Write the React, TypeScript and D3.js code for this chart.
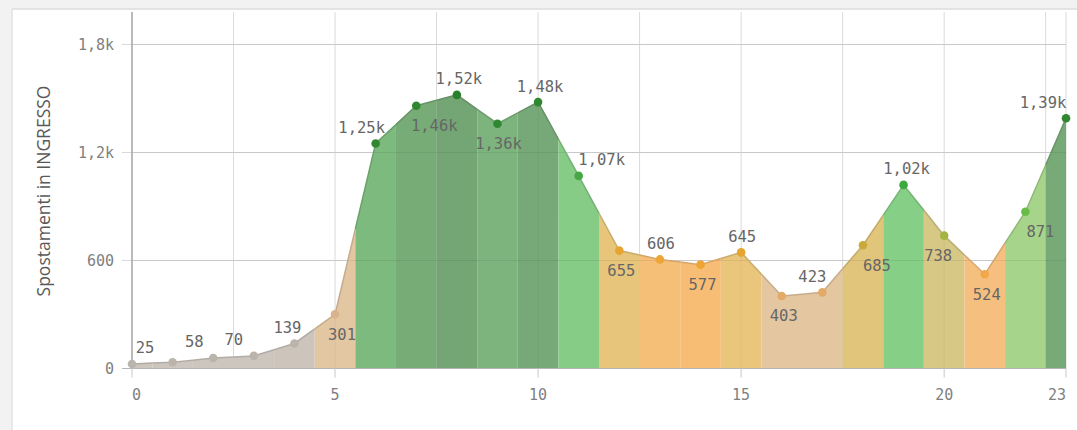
import React from "react";
import * as d3 from "d3";

// ---- data ----
const hours = [0, 1, 2, 3, 4, 5, 6, 7, 8, 9, 10, 11, 12, 13, 14, 15, 16, 17, 18, 19, 20, 21, 22, 23];
const values = [25, 35, 58, 70, 139, 301, 1250, 1460, 1520, 1360, 1480, 1070, 655, 606, 577, 645, 403, 423, 685, 1020, 738, 524, 871, 1390];
const yTicks = [0, 600, 1200, 1800];
const xTickLabels = [0, 5, 10, 15, 20, 23];
const yTitle = "Spostamenti in INGRESSO";

// ---- styles ----
const fillColors = [
  "#cdc6bf", "#cdc6bf", "#cdc6bf", "#cdc6bf", "#cdc5bc", "#e3c6a2",
  "#7dba7d", "#77ac77", "#74a574", "#7db47d", "#77a877", "#86cb86",
  "#e7c67c", "#f5bf78", "#f8bd75", "#e9c67b", "#e4c6a0", "#e4c6a0",
  "#e0c57a", "#86cf86", "#d7c886", "#f5bf80", "#a6d48a", "#78aa78",
];
const pointColors = [
  "#bbb4ad", "#bbb4ad", "#bbb4ad", "#bbb4ad", "#bbb4ad", "#d9b38b",
  "#2f872f", "#2f872f", "#2a7f2a", "#2f872f", "#2f872f", "#45a845",
  "#e5a530", "#eda535", "#eda535", "#e5a530", "#e2aa66", "#e2aa66",
  "#c9a93a", "#3daa3d", "#a4b444", "#f0a848", "#6abc48", "#2f872f",
];
// label placement: 1 above, -1 below, 0 hidden; with horizontal nudge
const labelSide = [1, 0, 1, 1, 1, -1, 1, -1, 1, -1, 1, 1, -1, 1, -1, 1, -1, 1, -1, 1, -1, -1, -1, 1];
const labelNudge = [13, 0, -19, -20, -7, 7, -14, 18, 2, 1, 2, 23, 2, 1, 2, 1, 2, -10, 14, 3, -6, 2, 15, -23];

const W = 1077;
const H = 430;
const plotLeft = 132;
const plotRight = 1066;
const plotTop = 12;
const plotBottom = 368.5;
const labelFont = "'DejaVu Sans Mono', monospace";

function fmtTick(v: number) {
  if (v >= 1000) return String(v / 1000).replace(".", ",") + "k";
  return String(v);
}
function fmtValue(v: number) {
  if (v >= 1000) return (v / 1000).toFixed(2).replace(".", ",") + "k";
  return String(v);
}

export default function App() {
  const x = d3.scaleLinear().domain([0, 23]).range([plotLeft, plotRight]);
  const y = d3.scaleLinear().domain([0, 1800]).range([plotBottom, 44.5]);
  const interp = (t: number) => {
    const i0 = Math.floor(t);
    const i1 = Math.min(i0 + 1, values.length - 1);
    const f = t - i0;
    return values[i0] + (values[i1] - values[i0]) * f;
  };

  const area = d3
    .area<[number, number]>()
    .x((d) => x(d[0]))
    .y0(y(0))
    .y1((d) => y(d[1]));
  const line = d3
    .line<[number, number]>()
    .x((d) => x(d[0]))
    .y((d) => y(d[1]));

  const segments = hours.map((h, i) => {
    const a = Math.max(0, h - 0.5);
    const b = Math.min(23, h + 0.5);
    const pts: [number, number][] = [];
    if (a < h) pts.push([a, interp(a)]);
    pts.push([h, values[i]]);
    if (b > h) pts.push([b, interp(b)]);
    return { pts, fill: fillColors[i], stroke: d3.color(fillColors[i])!.darker(0.4).formatHex() };
  });

  const vGrid = d3.range(0, 23.01, 2.5).concat([23]);

  return (
    <svg width={W} height={H} style={{ position: "absolute", left: 0, top: 0, background: "#f2f2f2" }}>
      <rect x={12} y={9} width={W - 12} height={H - 9} fill="#ffffff" />
      <line x1={12} x2={W} y1={9} y2={9} stroke="#dcdcdc" strokeWidth={1.5} />
      <line x1={12} x2={12} y1={9} y2={H} stroke="#e2e2e2" strokeWidth={1.5} />

      {/* horizontal grid */}
      {yTicks.map((t) => (
        <g key={"yg" + t}>
          <line x1={plotLeft - 10} x2={plotRight} y1={y(t)} y2={y(t)} stroke="#d9d9d9" strokeWidth={1} />
          <text
            x={plotLeft - 18}
            y={y(t)}
            dy="0.35em"
            textAnchor="end"
            fontFamily={labelFont}
            fontSize={15}
            fill="#7f7f7f"
          >
            {fmtTick(t)}
          </text>
        </g>
      ))}
      {/* vertical grid */}
      {vGrid.map((t) => (
        <line key={"xg" + t} x1={x(t)} x2={x(t)} y1={plotTop} y2={plotBottom} stroke="#e3e3e3" strokeWidth={1} />
      ))}

      {/* areas */}
      {segments.map((s, i) => (
        <path key={"a" + i} d={area(s.pts)!} fill={s.fill} />
      ))}
      {/* grid seen through the areas */}
      {yTicks.slice(1).map((t) => (
        <line key={"yo" + t} x1={plotLeft} x2={plotRight} y1={y(t)} y2={y(t)} stroke="rgba(0,0,0,0.07)" />
      ))}
      {vGrid.map((t) => (
        <line key={"xo" + t} x1={x(t)} x2={x(t)} y1={plotTop} y2={plotBottom} stroke="rgba(0,0,0,0.04)" />
      ))}
      {/* lines */}
      {segments.map((s, i) => (
        <path key={"l" + i} d={line(s.pts)!} fill="none" stroke={s.stroke} strokeWidth={1.5} />
      ))}

      {/* axes */}
      <line x1={plotLeft} x2={plotLeft} y1={plotTop} y2={plotBottom} stroke="#9a9a9a" strokeWidth={1.2} />
      <line x1={plotLeft - 10} x2={plotRight} y1={plotBottom} y2={plotBottom} stroke="#b5b5b5" strokeWidth={1.2} />
      {xTickLabels.map((t, i) => (
        <g key={"xt" + t}>
          <line x1={x(t)} x2={x(t)} y1={plotBottom} y2={plotBottom + 9} stroke="#c8c8c8" />
          <text
            x={x(t)}
            y={395}
            dy="0.35em"
            textAnchor={i === 0 ? "start" : i === xTickLabels.length - 1 ? "end" : "middle"}
            fontFamily={labelFont}
            fontSize={15}
            fill="#7f7f7f"
          >
            {t}
          </text>
        </g>
      ))}

      {/* points */}
      {hours.map((h, i) => (
        <circle key={"p" + i} cx={x(h)} cy={y(values[i])} r={4.3} fill={pointColors[i]} />
      ))}

      {/* labels */}
      {hours.map((h, i) =>
        labelSide[i] === 0 ? null : (
          <text
            key={"t" + i}
            x={x(h) + labelNudge[i]}
            y={y(values[i]) + (labelSide[i] > 0 ? -16 : 20)}
            dy="0.35em"
            textAnchor="middle"
            fontFamily={labelFont}
            fontSize={15.5}
            fill="#666666"
          >
            {fmtValue(values[i])}
          </text>
        )
      )}

      {/* y title */}
      <text
        transform={`translate(44,${191}) rotate(-90)`}
        dy="0.35em"
        textAnchor="middle"
        fontFamily="'Open Sans', 'Noto Sans', sans-serif"
        fontSize={17.5}
        fill="#595959"
      >
        {yTitle}
      </text>
    </svg>
  );
}
